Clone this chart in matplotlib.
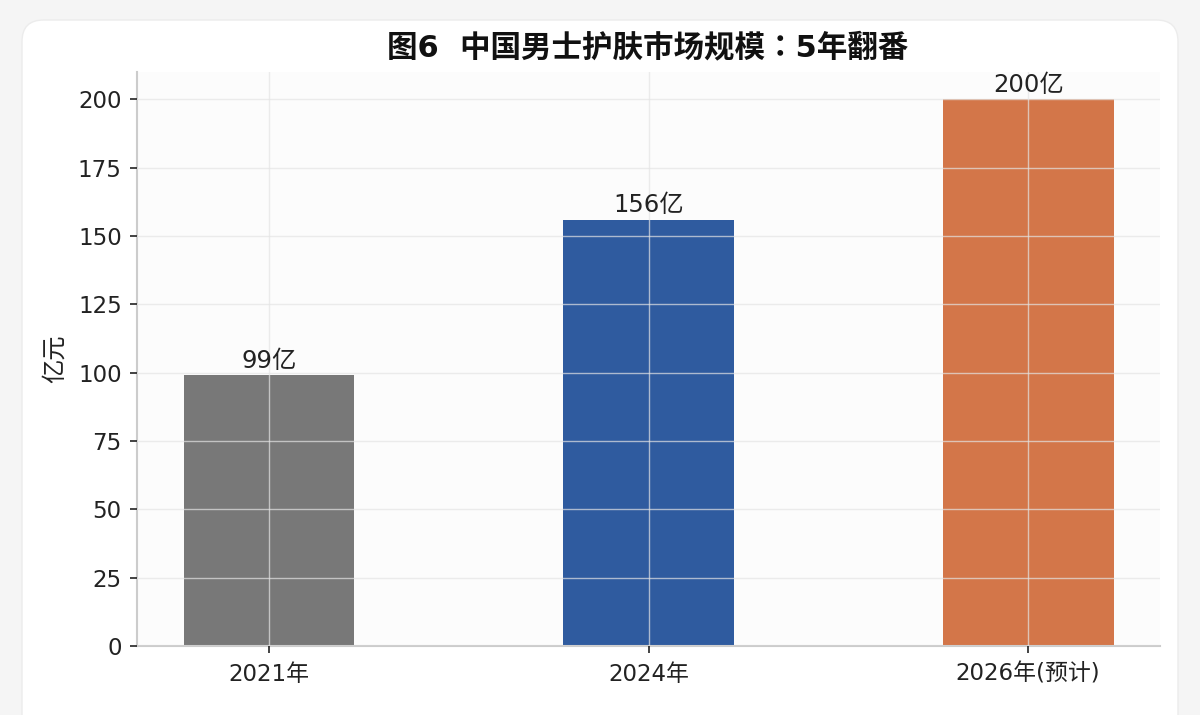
import matplotlib
matplotlib.use("Agg")
import matplotlib.pyplot as plt
from matplotlib.patches import FancyBboxPatch

plt.rcParams['font.family'] = ['DejaVu Sans', 'Noto Sans CJK SC']

categories = ["2021年", "2024年", "2026年(预计)"]
values = [99, 156, 200]
value_labels = ["99亿", "156亿", "200亿"]
colors = ["#787878", "#2f5b9f", "#d37649"]
title = "图6  中国男士护肤市场规模：5年翻番"
ylabel = "亿元"
yticks = [0, 25, 50, 75, 100, 125, 150, 175, 200]

W, H = 1200, 715
fig = plt.figure(figsize=(W / 100, H / 100), dpi=100, facecolor="#f5f5f5")

card = FancyBboxPatch((22 / W, 1 - (H + 40) / H), (1178 - 22) / W, (H + 40 - 20) / H,
                      boxstyle="round,pad=0,rounding_size=0.018",
                      transform=fig.transFigure, facecolor="white",
                      edgecolor="#ececec", linewidth=1.0, zorder=-5,
                      mutation_aspect=W / H)
fig.patches.append(card)

ax = fig.add_axes([137 / W, 1 - 646 / H, (1160 - 137) / W, (646 - 72) / H])
ax.set_facecolor("#fcfcfc")

x = list(range(len(categories)))
bars = ax.bar(x, values, width=0.45, color=colors, zorder=2)
ax.bar_label(bars, labels=value_labels, padding=2, fontsize=17.5, color="#222222")

ax.set_xticks(x)
ax.set_xticklabels(categories)
ax.set_yticks(yticks)
ax.set_ylim(0, 210)
ax.tick_params(axis="both", labelsize=16.5, colors="#222222", length=5, width=1.2)
ax.tick_params(axis="y", pad=6)
ax.tick_params(axis="x", pad=7)
ax.set_ylabel(ylabel, fontsize=17.5, color="#222222", labelpad=8)

ax.grid(True, color="#e4e4e4", alpha=0.7, linewidth=1.0, zorder=3)
ax.set_axisbelow(False)
for s in ["top", "right"]:
    ax.spines[s].set_visible(False)
for s in ["left", "bottom"]:
    ax.spines[s].set_color("#cccccc")
    ax.spines[s].set_linewidth(1.5)

fig.text(648 / W, 1 - 47 / H, title, ha="center", va="center",
         fontsize=22, fontweight="bold", color="#111111",
         family=['DejaVu Sans', 'Noto Sans CJK JP'])

fig.savefig("out.png", dpi=100, facecolor=fig.get_facecolor())
